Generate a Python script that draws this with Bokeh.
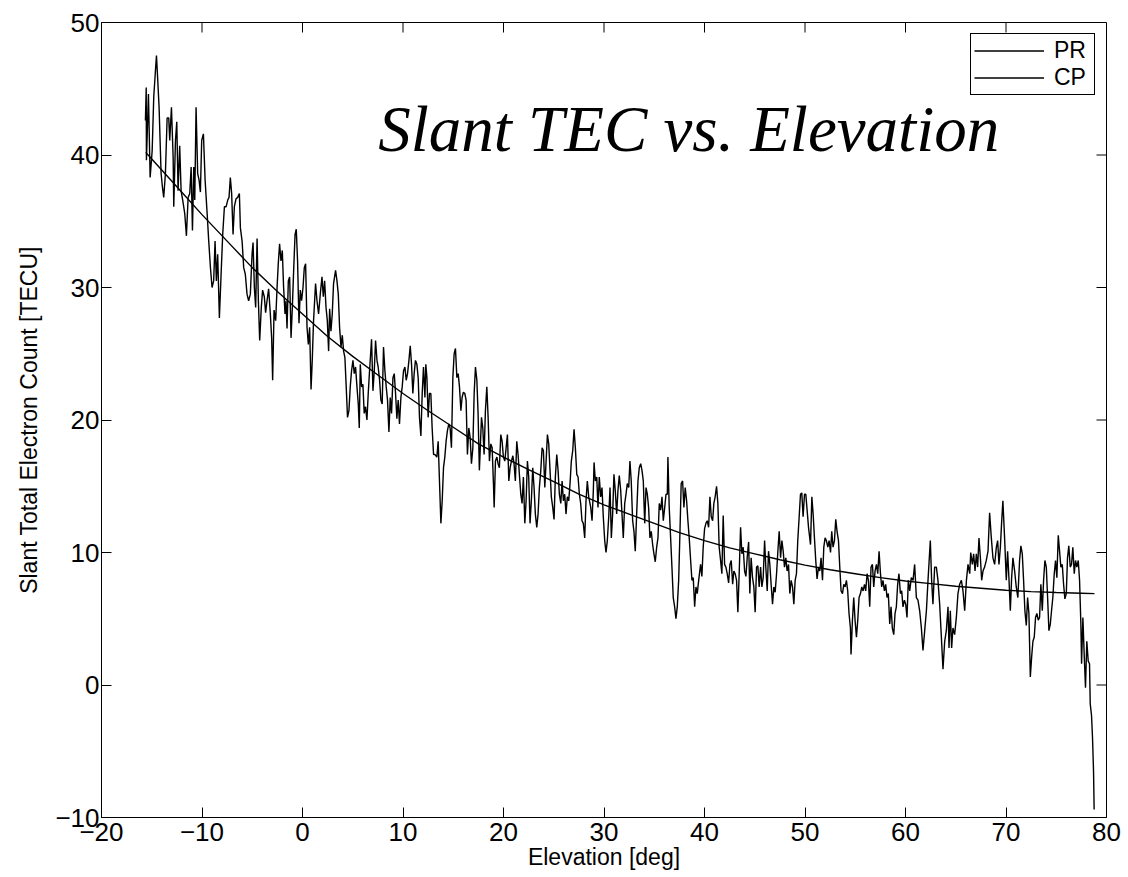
from bokeh.plotting import figure
from bokeh.models import FixedTicker, Label, Legend, LegendItem
from bokeh.embed import file_html
from bokeh.resources import INLINE

# ---------------- data ----------------
pr_elev = [
    -15.63, -15.55, -15.53, -15.33, -15.16, -14.96, -14.80, -14.63, -14.53, -14.40,
    -14.27, -14.07, -13.94, -13.81, -13.64, -13.47, -13.31, -13.21, -13.04, -12.87,
    -12.81, -12.64, -12.51, -12.38, -12.22, -12.08, -11.92, -11.72, -11.55, -11.38,
    -11.22, -11.08, -10.95, -10.82, -10.72, -10.59, -10.43, -10.29, -10.16, -10.03,
    -9.86, -9.69, -9.49, -9.33, -9.16, -9.00, -8.84, -8.70, -8.57, -8.44,
    -8.27, -8.10, -7.94, -7.77, -7.60, -7.44, -7.31, -7.18, -7.05, -6.91,
    -6.78, -6.61, -6.45, -6.28, -6.18, -6.01, -5.85, -5.69, -5.52, -5.36,
    -5.19,
    -5.02, -4.92, -4.79, -4.66, -4.52, -4.39, -4.26, -4.10, -3.97, -3.80,
    -3.67, -3.53, -3.37, -3.20, -3.07, -2.97, -2.83, -2.67, -2.53, -2.41,
    -2.28, -2.14, -2.01, -1.88, -1.74, -1.64, -1.54, -1.41, -1.28, -1.14,
    -1.01, -0.88, -0.74, -0.62, -0.49, -0.35, -0.22, -0.09, 0.05, 0.18,
    0.31, 0.45, 0.58, 0.71, 0.85, 0.97, 1.10, 1.30, 1.44, 1.60,
    1.77, 1.94, 2.07, 2.20, 2.34, 2.47, 2.60, 2.70, 2.83, 2.96,
    3.09, 3.29, 3.43, 3.56, 3.69, 3.83, 3.96, 4.09, 4.22, 4.35,
    4.48, 4.62, 4.75, 4.88, 5.02, 5.15, 5.28, 5.42, 5.55, 5.65,
    5.75, 5.88, 6.01, 6.14, 6.27, 6.41, 6.54, 6.67,
    6.87, 7.01, 7.14, 7.27, 7.41, 7.53, 7.67, 7.80, 7.93, 8.06,
    8.20, 8.33, 8.46, 8.60, 8.73, 8.86, 9.00, 9.13, 9.26, 9.39,
    9.52, 9.65, 9.79, 9.92, 10.05, 10.19, 10.32, 10.45, 10.59, 10.72,
    10.85, 10.98, 11.11, 11.24, 11.38, 11.51, 11.64, 11.78, 11.91, 12.04,
    12.18, 12.27, 12.38, 12.50, 12.63, 12.77, 12.90, 13.04, 13.17, 13.37,
    13.50, 13.63, 13.77, 13.90, 14.03, 14.16, 14.29, 14.42, 14.56, 14.69,
    14.82, 14.96, 15.09, 15.22, 15.36, 15.49, 15.62, 15.76, 15.88, 16.01,
    16.15, 16.28, 16.41, 16.55, 16.68, 16.81, 16.95, 17.08, 17.21, 17.35,
    17.47, 17.60,
    17.81, 17.94, 18.07, 18.20, 18.34, 18.47, 18.60, 18.74, 18.87, 19.00,
    19.07, 19.20, 19.34, 19.46, 19.59, 19.73, 19.86, 19.99, 20.13, 20.26,
    20.39, 20.53, 20.66, 20.79, 20.93, 21.05, 21.18, 21.32, 21.45, 21.58,
    21.72, 21.85, 21.98, 22.12, 22.25, 22.38, 22.51, 22.64, 22.77, 22.91,
    23.04, 23.17, 23.31, 23.44, 23.57, 23.71, 23.84, 23.97, 24.11, 24.24,
    24.37, 24.50, 24.63, 24.76, 24.90, 25.03, 25.16, 25.30, 25.43, 25.56,
    25.70, 25.83, 25.96, 26.09, 26.22, 26.35, 26.49, 26.62, 26.75, 26.89,
    27.02, 27.15, 27.29, 27.42, 27.55, 27.68, 27.81, 27.94, 28.08, 28.21,
    28.34, 28.48,
    28.68, 28.81, 28.94, 29.01, 29.14, 29.28, 29.40, 29.53, 29.67, 29.80,
    29.93, 30.07, 30.20, 30.33, 30.47, 30.60, 30.73, 30.86, 30.99, 31.12,
    31.26, 31.39, 31.52, 31.66, 31.79, 31.92, 32.06, 32.19, 32.32, 32.46,
    32.58, 32.71, 32.85, 32.98, 33.11, 33.25, 33.38, 33.51, 33.65, 33.78,
    33.91, 34.05, 34.18, 34.31, 34.44, 34.57, 34.70, 34.84, 34.97, 35.10,
    35.24, 35.37, 35.50, 35.64, 35.77, 35.90, 36.04, 36.17, 36.30, 36.36,
    36.49, 36.63, 36.76, 36.89, 37.03, 37.16, 37.29, 37.43, 37.56, 37.68,
    37.82, 37.95, 38.08, 38.22, 38.35, 38.48, 38.62, 38.75, 38.88, 39.02,
    39.15, 39.28, 39.42,
    39.61, 39.74, 39.87, 40.01, 40.14, 40.27, 40.41, 40.54, 40.67, 40.81,
    40.93, 41.06, 41.20, 41.33, 41.46, 41.60, 41.73, 41.86, 42.00, 42.13,
    42.26, 42.40, 42.53, 42.66, 42.80, 42.92, 43.05, 43.19, 43.32, 43.45,
    43.59, 43.72, 43.85, 43.99, 44.12, 44.25, 44.39, 44.51, 44.64, 44.78,
    44.91, 45.04, 45.18, 45.31, 45.44, 45.58, 45.71, 45.84, 45.98, 46.10,
    46.24, 46.37, 46.50, 46.63, 46.77, 46.90, 47.03, 47.17, 47.30, 47.43,
    47.57, 47.70, 47.83, 47.96, 48.09, 48.22, 48.36, 48.49, 48.62, 48.76,
    48.89, 49.02, 49.15, 49.28, 49.42, 49.55, 49.68, 49.81, 49.95, 50.08,
    50.21, 50.35,
    50.55, 50.68, 50.81, 50.94, 51.07, 51.20, 51.34, 51.47, 51.60, 51.74,
    51.87, 52.00, 52.13, 52.27, 52.40, 52.54, 52.66, 52.79, 52.93, 53.06,
    53.19, 53.33, 53.46, 53.59, 53.73, 53.86, 53.99, 54.12, 54.25, 54.38,
    54.52, 54.58, 54.72, 54.85, 54.98, 55.12, 55.25, 55.38, 55.52, 55.65,
    55.78, 55.92, 56.04, 56.18, 56.31, 56.44, 56.57, 56.71, 56.84, 56.97,
    57.11, 57.24, 57.37, 57.51, 57.63, 57.76, 57.90, 58.03, 58.16, 58.29,
    58.43, 58.56, 58.69, 58.83, 58.96, 59.09, 59.22, 59.35, 59.49, 59.62,
    59.75, 59.89, 60.02, 60.15, 60.28, 60.42,
    60.58, 60.75, 60.91, 61.08, 61.24, 61.41, 61.58, 61.74, 61.91, 62.08,
    62.24, 62.47, 62.60, 62.73, 62.90, 63.07, 63.23, 63.40, 63.57, 63.73,
    63.90, 64.06, 64.23, 64.33, 64.46, 64.59, 64.72, 64.89, 65.06, 65.22,
    65.39, 65.56, 65.72, 65.89, 66.06, 66.22, 66.39, 66.49, 66.65, 66.78,
    66.92, 67.05, 67.18, 67.31, 67.45, 67.58, 67.71, 67.87, 68.04, 68.21,
    68.37, 68.54, 68.70, 68.87, 69.04, 69.17, 69.30, 69.44, 69.56, 69.69,
    69.86, 70.03, 70.16, 70.29, 70.43, 70.56, 70.69, 70.86, 71.02, 71.18,
    71.35, 71.48, 71.62, 71.75, 71.88, 72.02, 72.15, 72.28, 72.42, 72.55,
    72.68, 72.81, 72.94, 73.07, 73.21, 73.34, 73.47, 73.61, 73.74, 73.87,
    74.01, 74.14, 74.27, 74.41, 74.53, 74.66, 74.80, 74.93, 75.06, 75.20,
    75.33, 75.46, 75.60, 75.73, 75.86, 76.00, 76.12, 76.25, 76.39, 76.52,
    76.65, 76.79, 76.92, 77.05, 77.19, 77.32, 77.45, 77.52, 77.65, 77.79,
    77.91, 78.04, 78.18, 78.31, 78.38, 78.51, 78.61, 78.71, 78.77,
]

pr_tec = [
    42.6, 45.1, 39.6, 44.6, 38.3, 40.3, 44.4, 46.4, 47.5, 45.6,
    43.6, 38.6, 37.6, 36.8, 38.6, 42.8, 42.8, 41.1, 43.6, 39.8,
    36.1, 41.1, 42.5, 37.3, 40.7, 37.3, 36.6, 35.6, 33.9, 36.8,
    37.1, 39.1, 34.3, 39.1, 36.6, 43.6, 38.6, 38.1, 37.2, 41.1,
    41.6, 38.1, 35.6, 33.5, 31.5, 30.0, 30.5, 33.5, 30.5, 32.5,
    27.7, 31.0, 34.0, 36.1, 36.1, 36.6, 36.8, 38.3, 37.1, 34.0,
    36.1, 36.7, 36.8, 37.1, 34.5, 33.5, 31.5, 31.0, 29.5, 29.0,
    29.5,
    32.5, 33.4, 30.0, 28.5, 33.7, 29.0, 26.0, 28.5, 29.8, 29.3,
    28.1, 29.0, 29.9, 28.0, 26.2, 23.0, 28.3, 27.5, 30.0, 31.8,
    33.3, 32.0, 32.8, 30.0, 28.0, 29.0, 26.9, 30.5, 30.8, 26.2,
    28.5, 31.3, 34.0, 34.4, 32.0, 27.3, 29.8, 29.0, 30.0, 31.5,
    31.8, 27.0, 25.7, 27.0, 22.3, 24.5, 27.5, 30.3, 29.0, 28.0,
    29.5, 30.8, 29.3, 30.5, 28.5, 27.5, 25.2, 28.4, 26.7, 28.0,
    30.3, 31.3, 30.5, 29.5, 27.0, 25.5, 26.4, 25.2, 24.7, 22.5,
    20.2, 20.7, 22.5, 23.7, 24.5, 23.5, 24.0, 22.5, 21.2, 19.4,
    24.2, 22.5, 22.7, 20.5, 21.0, 20.0, 22.0, 23.7,
    26.1, 22.2, 23.7, 26.0, 24.5, 24.0, 23.0, 21.5, 21.2, 25.5,
    23.7, 22.5, 21.5, 19.1, 21.7, 20.5, 23.2, 23.5, 22.0, 20.1,
    21.5, 19.7, 21.7, 22.5, 23.7, 24.0, 23.0, 23.5, 24.5, 25.6,
    24.2, 22.0, 23.5, 24.5, 24.2, 23.2, 20.2, 18.8, 22.0, 24.0,
    21.7, 24.2, 23.2, 20.2, 22.0, 22.0, 19.4, 17.4, 17.4, 17.2,
    18.4, 15.4, 12.2, 13.9, 16.4, 17.2, 18.4, 19.2, 19.7, 19.4,
    17.9, 23.2, 25.0, 25.4, 23.2, 23.5, 22.5, 20.7, 21.7, 22.1,
    22.0, 21.5, 17.4, 19.4, 18.7, 16.7, 17.9, 22.0, 24.0, 23.0,
    20.5, 16.2,
    20.2, 19.4, 17.4, 20.7, 22.5, 20.2, 16.9, 18.2, 17.9, 15.2,
    13.4, 16.9, 17.2, 16.7, 16.4, 18.9, 18.4, 17.2, 16.9, 17.9,
    18.9, 15.4, 16.4, 16.9, 17.3, 16.7, 15.4, 18.4, 17.4, 15.9,
    14.4, 13.7, 15.7, 12.2, 13.9, 16.9, 15.7, 12.2, 13.9, 16.4,
    14.9, 12.9, 11.9, 12.9, 14.9, 16.2, 17.9, 17.7, 14.9, 16.9,
    18.9, 18.2, 16.2, 14.2, 13.4, 12.5, 15.7, 17.4, 16.2, 14.4,
    13.7, 15.4, 13.9, 14.4, 12.9, 14.2, 13.9, 15.2, 16.9, 17.7,
    19.3, 17.9, 15.9, 15.7, 14.4, 13.7, 12.4, 12.2, 11.1, 13.9,
    15.4, 14.2,
    13.4, 12.4, 14.7, 16.8, 15.4, 15.7, 13.4, 15.7, 14.2, 14.9,
    12.7, 10.9, 10.0, 10.9, 12.7, 14.9, 11.1, 12.9, 15.9, 14.7,
    12.9, 14.7, 15.8, 14.7, 12.9, 11.1, 13.7, 14.4, 15.2, 14.9,
    16.9, 15.4, 12.4, 11.6, 10.1, 12.9, 15.4, 16.4, 16.7, 16.2,
    15.4, 12.2, 14.9, 14.4, 13.4, 11.1, 11.6, 10.6, 9.9, 9.3,
    10.4, 11.1, 13.7, 13.2, 14.2, 12.4, 13.4, 14.4, 14.4, 17.2,
    13.4, 11.1, 8.9, 6.6, 5.9, 5.0, 5.9, 7.9, 11.6, 15.2,
    15.4, 13.4, 14.9, 13.9, 12.4, 11.1, 9.4, 7.9, 8.1, 5.9,
    7.4, 6.9, 7.9,
    9.1, 8.2, 10.4, 11.8, 12.2, 12.4, 11.9, 14.2, 12.7, 12.4,
    13.7, 14.2, 15.0, 13.7, 10.4, 9.4, 8.4, 12.8, 9.1, 8.9,
    8.4, 7.7, 9.1, 9.4, 7.6, 8.6, 8.4, 7.9, 5.5, 8.4,
    11.9, 9.9, 10.4, 8.6, 8.2, 9.6, 10.8, 6.9, 9.6, 8.1,
    7.4, 5.5, 8.9, 9.0, 7.4, 8.9, 7.4, 8.1, 10.9, 8.9,
    7.1, 10.1, 9.1, 7.6, 6.1, 7.4, 7.0, 8.4, 10.1, 11.6,
    9.6, 10.9, 10.1, 8.9, 9.6, 8.6, 9.1, 6.9, 7.9, 7.4,
    6.1, 7.9, 8.4, 10.9, 12.7, 14.4, 14.5, 12.7, 14.4, 14.4,
    13.2, 11.9,
    10.6, 14.2, 12.9, 11.1, 9.4, 8.0, 8.9, 8.6, 9.6, 7.9,
    10.4, 11.1, 10.9, 10.4, 10.9, 10.0, 11.6, 10.4, 10.9, 12.5,
    11.6, 10.9, 8.9, 7.1, 6.9, 7.6, 7.4, 7.9, 7.1, 5.4,
    4.3, 2.3, 4.9, 6.6, 4.9, 3.6, 4.9, 6.6, 6.9, 7.4,
    7.1, 7.6, 7.1, 8.4, 7.9, 5.9, 8.9, 9.1, 7.4, 8.6,
    9.1, 8.4, 10.1, 8.4, 7.4, 7.9, 7.1, 7.6, 6.6, 6.9,
    4.6, 5.9, 4.3, 3.8, 5.4, 5.9, 7.6, 8.4, 6.9, 7.1,
    5.9, 6.4, 6.1, 5.1, 7.9, 7.1,
    8.1, 7.9, 9.1, 6.6, 6.4, 5.6, 4.3, 2.6, 4.1, 5.6,
    7.9, 10.9, 7.9, 6.1, 8.9, 8.9, 7.9, 6.1, 3.6, 1.2,
    3.3, 4.1, 5.9, 2.8, 5.6, 2.8, 4.3, 3.8, 5.1, 6.9,
    7.6, 7.9, 7.1, 5.6, 7.9, 9.1, 8.4, 10.0, 9.1, 9.9,
    8.6, 9.9, 8.9, 11.1, 9.6, 7.9, 8.6, 8.9, 9.4, 10.1,
    13.0, 11.1, 9.6, 9.1, 10.4, 10.9, 9.1, 10.4, 12.2, 13.9,
    11.1, 7.9, 10.1, 8.1, 5.6, 8.1, 9.6, 8.6, 7.4, 6.6,
    9.4, 10.5, 9.9, 7.9, 5.6, 4.5, 6.6, 5.4, 0.6, 2.1,
    3.3, 3.6, 5.1, 5.4, 4.9, 5.1, 7.6, 5.6, 7.9, 9.4,
    8.9, 6.6, 4.1, 4.6, 5.6, 6.6, 8.4, 9.4, 8.1, 11.3,
    10.1, 8.9, 9.1, 7.6, 6.5, 6.9, 9.6, 10.5, 8.9, 9.1,
    10.4, 8.4, 9.4, 8.9, 9.4, 7.9, 4.6, 1.6, 5.1, 2.1,
    -0.2, 3.3, 1.8, 1.6, -1.4, -2.3, -4.0, -6.5, -9.4,
]

cp_elev = [-15.6, -15.0, -12.5, -10.0, -7.5, -5.0, -2.5, 0.0, 2.5, 5.0,
           7.5, 10.0, 12.5, 15.0, 17.5, 20.0, 22.5, 25.0, 27.5, 30.0,
           32.5, 35.0, 37.5, 40.0, 42.5, 45.0, 47.5, 50.0, 52.5, 55.0,
           57.5, 60.0, 62.5, 65.0, 67.5, 70.0, 72.5, 75.0, 77.5, 78.8]
cp_tec = [40.2, 39.7, 37.6, 35.5, 33.5, 31.5, 29.7, 28.0, 26.3, 24.8,
          23.4, 22.0, 20.7, 19.45, 18.2, 17.2, 16.25, 15.35, 14.4, 13.6,
          12.9, 12.2, 11.5, 10.9, 10.35, 9.9, 9.45, 9.05, 8.7, 8.4,
          8.1, 7.85, 7.65, 7.45, 7.3, 7.15, 7.05, 6.98, 6.93, 6.9]

x_ticks = [-20, -10, 0, 10, 20, 30, 40, 50, 60, 70, 80]
y_ticks = [-10, 0, 10, 20, 30, 40, 50]
series_names = ["PR", "CP"]
title_text = "Slant TEC vs. Elevation"
x_label = "Elevation [deg]"
y_label = "Slant Total Electron Count [TECU]"

# ---------------- layout constants ----------------
W, H = 1128, 877
B_LEFT, B_RIGHT, B_TOP, B_BOTTOM = 101, 22, 22, 60
FRAME_W = W - B_LEFT - B_RIGHT
FRAME_H = H - B_TOP - B_BOTTOM
X0, X1 = -20, 80
Y0, Y1 = -10, 50
TICK_PX = 10
SANS = "Liberation Sans"

p = figure(width=W, height=H, x_range=(X0, X1), y_range=(Y0, Y1),
           output_backend="svg", toolbar_location=None,
           min_border_left=B_LEFT, min_border_right=B_RIGHT,
           min_border_top=B_TOP, min_border_bottom=B_BOTTOM)
p.background_fill_color = "white"
p.border_fill_color = "white"
p.outline_line_color = "black"
p.outline_line_alpha = 1
p.outline_line_width = 1
p.xgrid.visible = False
p.ygrid.visible = False


def minus(v):
    return str(v).replace("-", "\u2212")


def style_axis(ax, ticks):
    ax.ticker = FixedTicker(ticks=ticks)
    ax.major_tick_in = TICK_PX
    ax.major_tick_out = 0
    ax.minor_tick_line_color = None
    ax.axis_line_color = "black"
    ax.major_tick_line_color = "black"
    ax.major_label_overrides = {t: minus(t) for t in ticks}
    ax.major_label_text_font = SANS
    ax.major_label_text_font_size = "26px"
    ax.major_label_text_color = "black"


style_axis(p.xaxis[0], x_ticks)
style_axis(p.yaxis[0], y_ticks)
p.xaxis[0].major_label_standoff = 5
p.yaxis[0].major_label_standoff = 2

for ax, txt in ((p.xaxis[0], x_label), (p.yaxis[0], y_label)):
    ax.axis_label = txt
    ax.axis_label_text_font = SANS
    ax.axis_label_text_font_size = "23px"
    ax.axis_label_text_font_style = "normal"
    ax.axis_label_text_color = "black"
p.xaxis[0].axis_label_standoff = 0
p.yaxis[0].axis_label_standoff = 10

# inward ticks on the top and right edges of the box (MATLAB style)
dy = TICK_PX * (Y1 - Y0) / FRAME_H
dx = TICK_PX * (X1 - X0) / FRAME_W
p.segment(x0=x_ticks, y0=[Y1] * len(x_ticks), x1=x_ticks,
          y1=[Y1 - dy] * len(x_ticks), line_color="black", line_width=1)
p.segment(x0=[X1] * len(y_ticks), y0=y_ticks, x1=[X1 - dx] * len(y_ticks),
          y1=y_ticks, line_color="black", line_width=1)

r_pr = p.line(pr_elev, pr_tec, line_color="black", line_width=1.4)
r_cp = p.line(cp_elev, cp_tec, line_color="black", line_width=1.4)

legend = Legend(items=[LegendItem(label=series_names[0], renderers=[r_pr]),
                       LegendItem(label=series_names[1], renderers=[r_cp])],
                location="top_right", margin=11, padding=3, spacing=0,
                glyph_width=70, glyph_height=17, label_height=17,
                label_width=37, label_standoff=10,
                label_text_font=SANS, label_text_font_size="23px",
                label_text_color="black",
                label_text_baseline="middle",
                border_line_color="black", border_line_alpha=1,
                border_line_width=1,
                background_fill_color="white", background_fill_alpha=1)
p.add_layout(legend, "center")

title = Label(x=7.53, y=42.0, text=title_text, text_font="Liberation Serif",
              text_font_style="italic", text_font_size="65px",
              text_color="black", text_align="left", text_baseline="alphabetic")
p.add_layout(title)

open("out.html", "w").write(file_html(p, INLINE))
